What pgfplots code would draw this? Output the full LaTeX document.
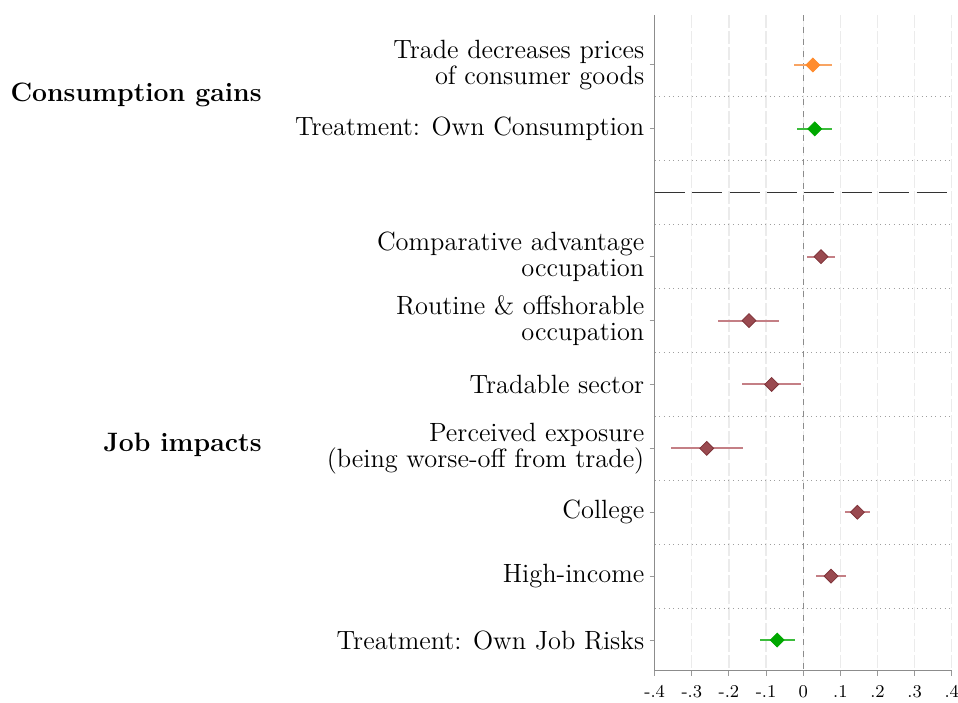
\documentclass[border=0pt]{standalone}
\usepackage{pgfplots}
\usepackage{pgfplotstable}
\pgfplotsset{compat=1.18}
\definecolor{corange}{HTML}{FF8C2E}
\definecolor{corangel}{HTML}{F8A463}
\definecolor{cgreen}{HTML}{00A800}
\definecolor{cgreenl}{HTML}{3CBC3C}
\definecolor{cmaroon}{HTML}{9A4A50}
\definecolor{cmaroond}{HTML}{7E3238}
\definecolor{cmaroonl}{HTML}{C47F85}

% row, estimate, upper and lower half-widths of the CI
\pgfplotstableread{
row est ep em
1 0.026 0.052 0.051
}\orangetab
\pgfplotstableread{
row est ep em
2 0.031 0.047 0.047
10 -0.070 0.047 0.046
}\greentab
\pgfplotstableread{
row est ep em
4 0.048 0.037 0.037
5 -0.146 0.082 0.083
6 -0.085 0.079 0.081
7 -0.260 0.097 0.097
8 0.146 0.034 0.033
9 0.075 0.041 0.041
}\maroontab

\begin{document}
\begin{tikzpicture}
\useasboundingbox (0,0) rectangle (479pt,351pt);
\begin{axis}[
    at={(327.35pt,15.65pt)}, anchor=south west,
    scale only axis, width=148.5pt, height=327.85pt,
    xmin=-0.4, xmax=0.4, ymin=0.218, ymax=10.48, y dir=reverse,
    xtick={-0.4,-0.3,-0.2,-0.1,0,0.1,0.2,0.3,0.4},
    xticklabels={-.4,-.3,-.2,-.1,0,.1,.2,.3,.4},
    ytick={1,2,4,5,6,7,8,9,10},
    yticklabels={{Trade decreases prices\\of consumer goods},
      {Treatment: Own Consumption},
      {Comparative advantage\\occupation},
      {Routine \& offshorable\\occupation},
      {Tradable sector},
      {Perceived exposure\\(being worse-off from trade)},
      {College}, {High-income}, {Treatment: Own Job Risks}},
    yticklabel style={align=right, inner xsep=2.5pt, font=\fontsize{13.2}{13}\selectfont},
    xticklabel style={font=\fontsize{9}{10}\selectfont, yshift=-1.5pt},
    axis x line*=bottom, axis y line*=left,
    axis line style={black!45, line width=0.6pt, -},
    tick style={black!40, line width=0.5pt},
    tick align=outside, major tick length=2.5pt,
    xmajorgrids, grid style={black!8, dash pattern=on 6.5pt off 1.5pt, line width=0.6pt},
    extra y ticks={1.5,2.5,3.5,4.5,5.5,6.5,7.5,8.5,9.5},
    extra y tick labels={},
    extra y tick style={major tick length=0pt, ymajorgrids=true,
      major grid style={gray!75, dash pattern=on 0.5pt off 1.8pt, line width=0.5pt}},
    clip=false,
]
  \addplot[gray!90, dashed, line width=0.5pt] coordinates {(0,0.218) (0,10.48)};
  \addplot[black!80, line width=0.7pt, dash pattern=on 15pt off 3.7pt] coordinates {(-0.4,3) (0.4,3)};
  \addplot[only marks, mark=square*, mark size=2.45pt,
    mark options={rotate=45, fill=corange, draw=corange},
    error bars/.cd, x dir=both, x explicit, error mark=none,
    error bar style={corangel, line width=1pt}]
    table[x=est, y=row, x error plus=ep, x error minus=em] {\orangetab};
  \addplot[only marks, mark=square*, mark size=2.45pt,
    mark options={rotate=45, fill=cgreen, draw=cgreen},
    error bars/.cd, x dir=both, x explicit, error mark=none,
    error bar style={cgreenl, line width=1pt}]
    table[x=est, y=row, x error plus=ep, x error minus=em] {\greentab};
  \addplot[only marks, mark=square*, mark size=2.45pt,
    mark options={rotate=45, fill=cmaroon, draw=cmaroond},
    error bars/.cd, x dir=both, x explicit, error mark=none,
    error bar style={cmaroonl, line width=1pt}]
    table[x=est, y=row, x error plus=ep, x error minus=em] {\maroontab};
  \node[anchor=east, inner sep=0pt, font=\fontsize{13.3}{13}\selectfont\bfseries]
    at ([xshift=-196.35pt]axis cs:-0.4,1.47) {Consumption gains};
  \node[anchor=east, inner sep=0pt, font=\fontsize{13.3}{13}\selectfont\bfseries]
    at ([xshift=-196.35pt]axis cs:-0.4,6.94) {Job impacts};
\end{axis}
\end{tikzpicture}
\end{document}
